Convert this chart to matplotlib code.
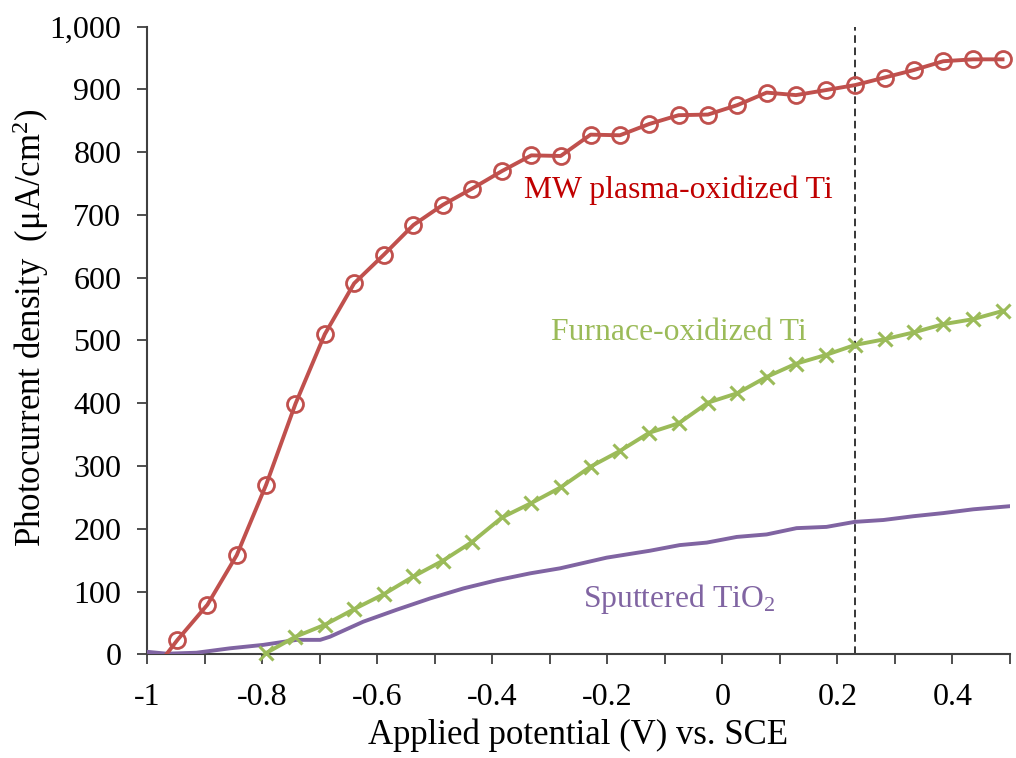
import matplotlib
matplotlib.use("Agg")
import matplotlib.pyplot as plt
import numpy as np

plt.rcParams["font.family"] = ["Liberation Serif", "DejaVu Serif"]
plt.rcParams["mathtext.fontset"] = "custom"
plt.rcParams["mathtext.rm"] = "Liberation Serif"
plt.rcParams["mathtext.it"] = "Liberation Serif:italic"

# Applied potential (V vs. SCE) and photocurrent density (uA/cm2)
mw_potential = [-0.998, -0.947, -0.895, -0.844, -0.793, -0.742, -0.691, -0.640,
                -0.588, -0.537, -0.486, -0.435, -0.383, -0.332, -0.281, -0.229,
                -0.178, -0.127, -0.076, -0.025, 0.026, 0.077, 0.128, 0.180,
                0.231, 0.282, 0.333, 0.384, 0.436, 0.487]
mw_current = [-38, 23, 79, 158, 270, 399, 510, 591,
              637, 684, 716, 742, 770, 795, 794, 828,
              827, 845, 859, 860, 875, 895, 891, 899,
              907, 919, 931, 945, 948, 948]

furnace_potential = [-0.844, -0.793, -0.742, -0.691, -0.640, -0.588, -0.537,
                     -0.486, -0.435, -0.383, -0.332, -0.281, -0.229, -0.178,
                     -0.127, -0.076, -0.025, 0.026, 0.077, 0.128, 0.180, 0.231,
                     0.282, 0.333, 0.384, 0.436, 0.487]
furnace_current = [-30, 2, 28, 47, 72, 96, 124,
                   149, 179, 218, 241, 266, 299, 324,
                   353, 368, 401, 416, 442, 463, 477, 493,
                   502, 513, 526, 534, 547]

sputter_potential = [-1.000, -0.966, -0.914, -0.856, -0.798, -0.740, -0.699,
                     -0.682, -0.624, -0.566, -0.508, -0.450, -0.392, -0.334,
                     -0.282, -0.201, -0.126, -0.074, -0.027, 0.025, 0.077,
                     0.129, 0.181, 0.230, 0.280, 0.332, 0.384, 0.436, 0.500]
sputter_current = [4, 1, 2.5, 9.5, 15, 23, 23,
                   28, 52, 71, 89, 105, 118, 129,
                   137, 154, 165, 174, 178, 187, 191,
                   201, 203, 211, 214, 220, 225, 231, 236]

reference_potential = 0.23

x_ticks = [-1.0, -0.8, -0.6, -0.4, -0.2, 0.0, 0.2, 0.4]
x_tick_labels = ["-1", "-0.8", "-0.6", "-0.4", "-0.2", "0", "0.2", "0.4"]
y_ticks = [0, 100, 200, 300, 400, 500, 600, 700, 800, 900, 1000]
y_tick_labels = ["0", "100", "200", "300", "400", "500", "600", "700", "800", "900", "1,000"]

RED = "#C0504D"
GREEN = "#9BBB59"
PURPLE = "#8064A2"

fig = plt.figure(figsize=(10.16, 7.58), dpi=100)
ax = fig.add_axes([147 / 1016, 1 - 654.3 / 758, 863 / 1016, 627.6 / 758])

ax.set_xlim(-1.0, 0.5)
ax.set_ylim(0, 1000)

# curves (clipped at the axes), markers drawn unclipped for on-scale points
ax.plot(sputter_potential, sputter_current, color=PURPLE, lw=2.8, zorder=3,
        solid_joinstyle="round")
ax.plot(furnace_potential, furnace_current, color=GREEN, lw=2.8, zorder=4,
        solid_joinstyle="round")
ax.plot(mw_potential, mw_current, color=RED, lw=2.8, zorder=5,
        solid_joinstyle="round")

fx = np.array(furnace_potential)
fy = np.array(furnace_current)
keep = fy >= 0
ax.plot(fx[keep], fy[keep], ls="none", marker="x", ms=10.5, mew=2.2,
        color=GREEN, clip_on=False, zorder=4)

mx = np.array(mw_potential)
my = np.array(mw_current)
keep = my >= 0
ax.plot(mx[keep], my[keep], ls="none", marker="o", ms=11.5, mew=2.0,
        mfc="none", mec=RED, clip_on=False, zorder=5)

ax.axvline(reference_potential, color="black", lw=1.1, ls=(0, (5, 3)), zorder=2)

# series labels
ax.text(-0.076, 740, "MW plasma-oxidized Ti", color="#C00000", fontsize=22.8,
        ha="center", va="center")
ax.text(-0.076, 512, "Furnace-oxidized Ti", color=GREEN, fontsize=22.8,
        ha="center", va="center")
ax.text(-0.076, 88, "Sputtered TiO$_\\mathrm{2}$", color=PURPLE, fontsize=22.8,
        ha="center", va="center")

for side in ["top", "right"]:
    ax.spines[side].set_visible(False)
for side in ["left", "bottom"]:
    ax.spines[side].set_color("#404040")
    ax.spines[side].set_linewidth(1.5)

ax.set_xticks(np.round(np.arange(-1.0, 0.501, 0.1), 2), minor=True)
ax.set_xticks(x_ticks)
ax.set_xticklabels(x_tick_labels)
ax.set_yticks(y_ticks)
ax.set_yticklabels(y_tick_labels)
ax.tick_params(axis="both", which="both", direction="out", length=7.5, width=1.3,
               color="#404040", labelsize=23)
ax.tick_params(axis="x", pad=13)
ax.tick_params(axis="y", pad=11)

ax.set_xlabel("Applied potential (V) vs. SCE", fontsize=25, labelpad=5)
fig.text(31 / 1016, 1 - 328 / 758, "Photocurrent density  (μA/cm$^\\mathrm{2}$)",
         fontsize=25, rotation=90, ha="center", va="center")

fig.savefig("out.png", dpi=100, facecolor="white")
